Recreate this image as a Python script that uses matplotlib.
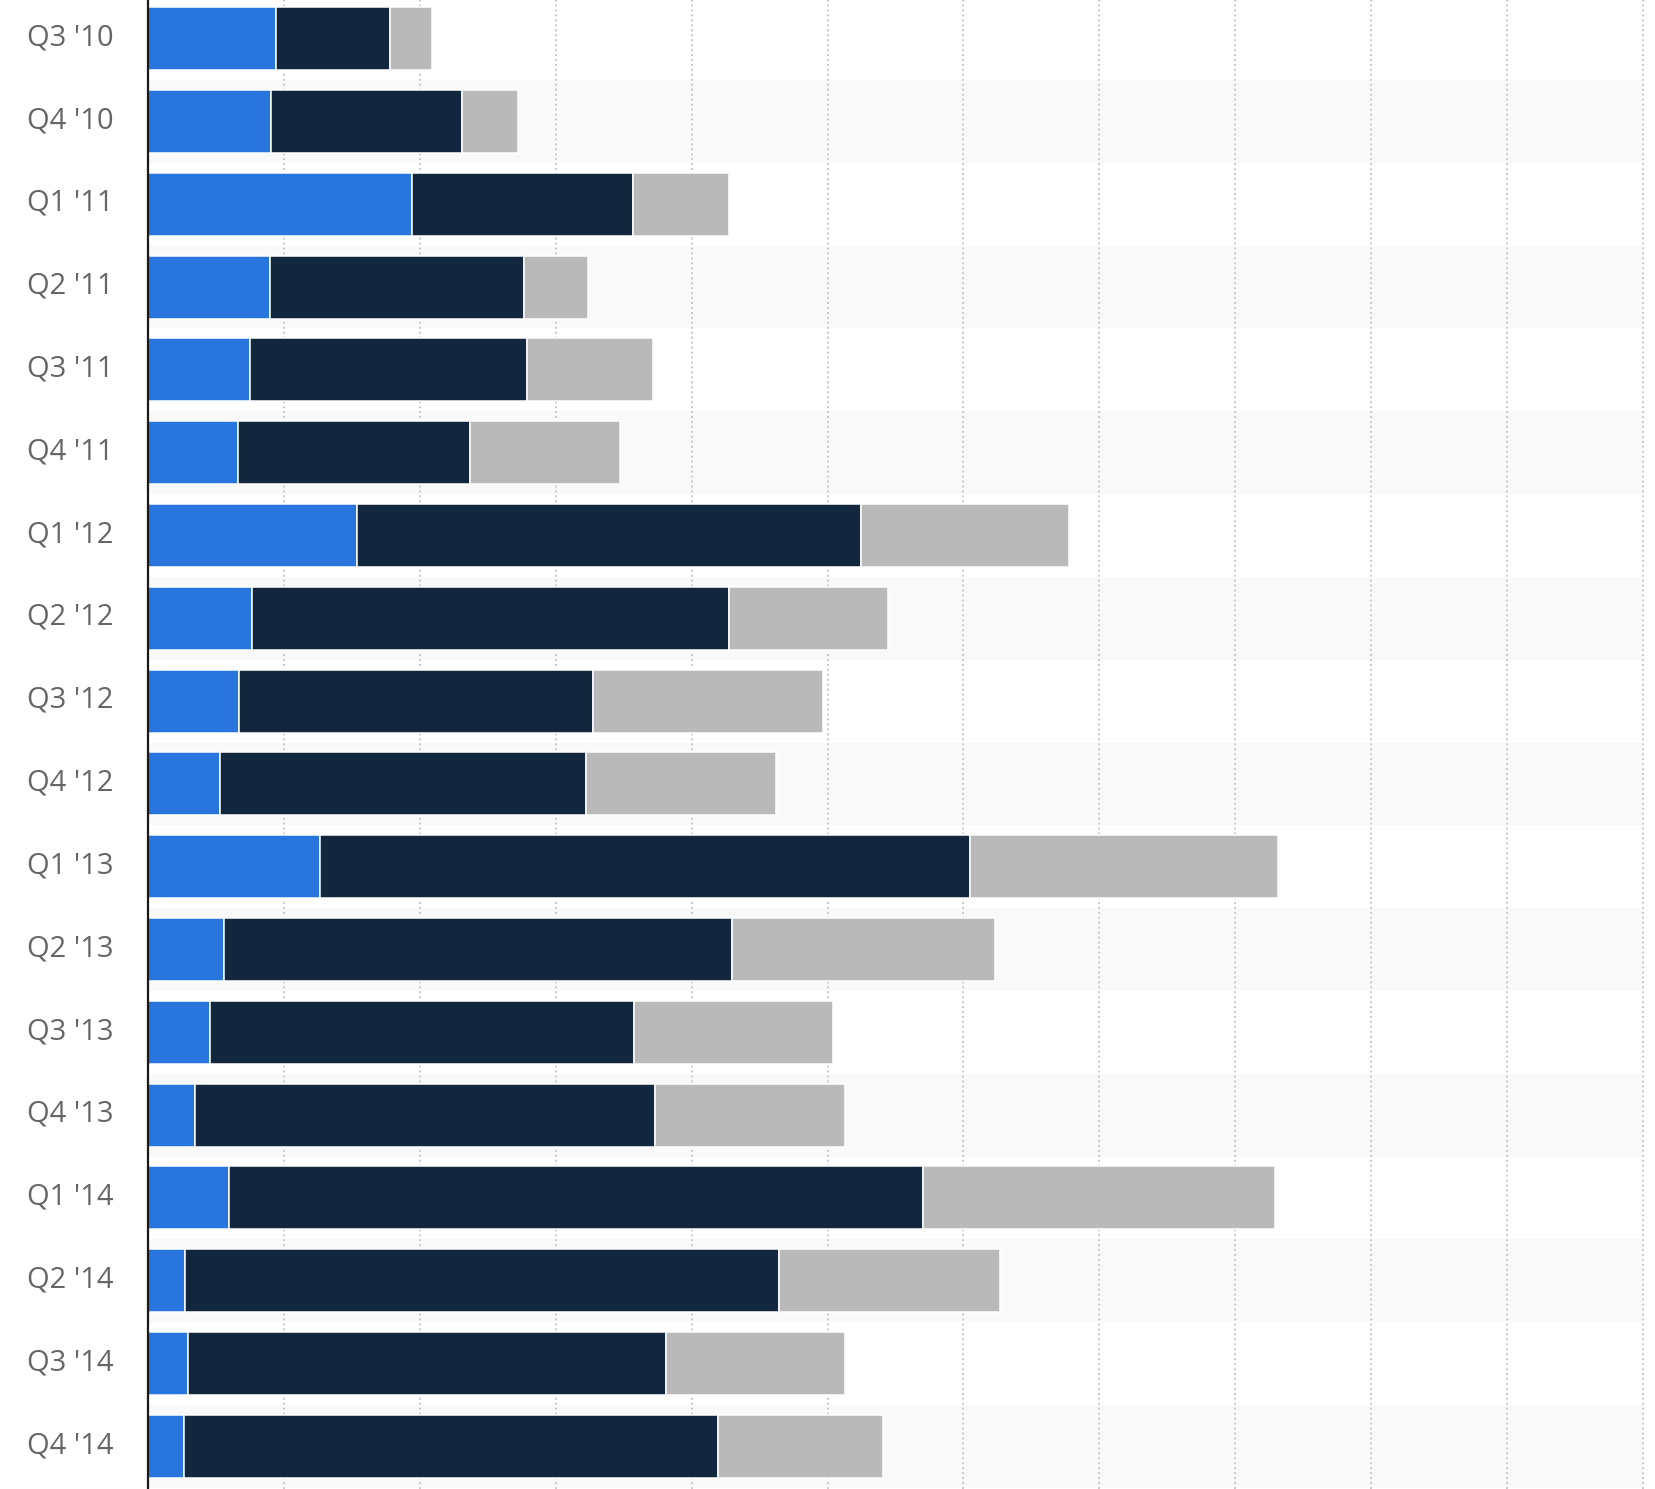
import matplotlib
matplotlib.use("Agg")
import matplotlib.pyplot as plt
import matplotlib.transforms as mtransforms

quarters = ["Q3 '10", "Q4 '10", "Q1 '11", "Q2 '11", "Q3 '11", "Q4 '11",
            "Q1 '12", "Q2 '12", "Q3 '12", "Q4 '12", "Q1 '13", "Q2 '13",
            "Q3 '13", "Q4 '13", "Q1 '14", "Q2 '14", "Q3 '14", "Q4 '14"]
ipod = [9.41, 9.05, 19.45, 9.02, 7.54, 6.62, 15.4, 7.67, 6.75, 5.3,
        12.7, 5.6, 4.57, 3.5, 6.0, 2.76, 2.93, 2.64]
iphone = [8.4, 14.1, 16.24, 18.65, 20.34, 17.07, 37.04, 35.06, 26.0, 26.9,
          47.8, 37.4, 31.2, 33.8, 51.0, 43.7, 35.2, 39.27]
ipad = [3.1, 4.1, 7.1, 4.69, 9.25, 11.05, 15.3, 11.7, 16.9, 14.0,
        22.6, 19.35, 14.6, 14.0, 25.9, 16.25, 13.15, 12.2]

W, H = 1655, 1489
fig = plt.figure(figsize=(W / 100, H / 100), dpi=100)
ax_left = 147.7 / W
ax_w = (1643.3 - 147.7) / W
ax = fig.add_axes([ax_left, 0, ax_w, 1])

n = len(quarters)
ys = list(range(n))

# alternating bands
for i in ys:
    if i % 2 == 1:
        ax.axhspan(i - 0.5, i + 0.5, color="#f9f9f9", zorder=0, lw=0)

# grid lines
for gx in range(10, 111, 10):
    ax.axvline(gx, color="#c9c9c9", lw=1.4, linestyle=(0, (1.0, 1.55)), zorder=1, clip_on=False)

left2 = [a for a in ipod]
left3 = [a + b for a, b in zip(ipod, iphone)]
bh = 0.76
ax.barh(ys, ipod, height=bh, color="#2876dd", edgecolor="white", linewidth=1.1, zorder=3)
ax.barh(ys, iphone, left=left2, height=bh, color="#12263d", edgecolor="white", linewidth=1.1, zorder=3)
ax.barh(ys, ipad, left=left3, height=bh, color="#b9b9b9", edgecolor="white", linewidth=1.1, zorder=3)

ax.set_xlim(0, 110)
ax.set_ylim(17.515, -0.467)

for s in ["top", "right", "bottom"]:
    ax.spines[s].set_visible(False)
ax.spines["left"].set_color("#1a1a1a")
ax.spines["left"].set_linewidth(1.6)
ax.spines["left"].set_zorder(5)
ax.set_xticks([])
ax.set_yticks([])

trans = mtransforms.blended_transform_factory(fig.transFigure, ax.transData)
for i, q in enumerate(quarters):
    ax.text(27 / W, i - 0.01, q, transform=trans, ha="left", va="center",
            fontsize=21, color="#666666", family=["Open Sans", "DejaVu Sans"])

fig.savefig("out.png", dpi=100)
